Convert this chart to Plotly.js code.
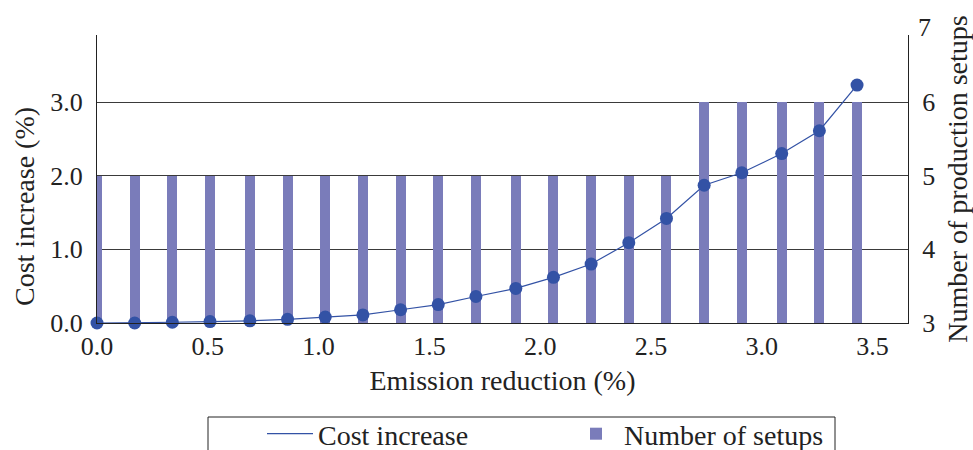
<!DOCTYPE html>
<html>
<head>
<meta charset="utf-8">
<script src="https://cdn.plot.ly/plotly-3.0.1.min.js"></script>
<style>html,body{margin:0;padding:0;background:#fff;}#chart{width:973px;height:450px;}</style>
</head>
<body>
<div id="chart"></div>
<script>
// Emission reduction (%) for each solution
const emissionReduction = [0, 0.17, 0.34, 0.51, 0.69, 0.86, 1.03, 1.20, 1.37, 1.54, 1.71, 1.89, 2.06, 2.23, 2.40, 2.57, 2.74, 2.91, 3.09, 3.26, 3.43];
// Cost increase (%)
const costIncrease = [0.00, 0.00, 0.01, 0.02, 0.03, 0.05, 0.08, 0.11, 0.18, 0.25, 0.36, 0.47, 0.62, 0.80, 1.09, 1.42, 1.87, 2.04, 2.30, 2.61, 3.23];
// Number of production setups
const setups = [5, 5, 5, 5, 5, 5, 5, 5, 5, 5, 5, 5, 5, 5, 5, 5, 6, 6, 6, 6, 6];
const setupsBase = 3;

const FONT = 'Liberation Serif, Times New Roman, serif';
const TXT = '#222';
const LINE_COLOR = '#3352a5';
const BAR_COLOR = '#7a7cba';

const traces = [
  {
    type: 'scatter', mode: 'lines', name: 'Cost increase',
    x: emissionReduction, y: costIncrease, xaxis: 'x', yaxis: 'y2',
    line: {color: LINE_COLOR, width: 1.2},
    cliponaxis: false
  },
  {
    type: 'scatter', mode: 'markers', name: 'Cost increase', showlegend: false,
    x: emissionReduction, y: costIncrease, xaxis: 'x', yaxis: 'y2',
    marker: {color: LINE_COLOR, size: 13},
    cliponaxis: false
  },
  {
    type: 'bar', name: 'Number of setups',
    x: emissionReduction, y: setups.map(v => v - setupsBase), base: setupsBase,
    customdata: setups, hovertemplate: '%{customdata}<extra></extra>',
    xaxis: 'x', yaxis: 'y',
    width: 0.045,
    marker: {color: BAR_COLOR, line: {width: 0}},
    cliponaxis: false
  }
];

const W = 973, H = 450, L = 97, R = 65, T = 35, B = 127;
const pw = W - L - R, ph = H - T - B;
const px = v => (v - L) / pw;
const py = v => (H - B - v) / ph;

const tickFont = {family: FONT, size: 26, color: TXT};
const titleFont = {family: FONT, size: 28, color: TXT};

const layout = {
  width: W, height: H,
  margin: {l: L, r: R, t: T, b: B, autoexpand: false},
  paper_bgcolor: '#fff', plot_bgcolor: '#fff',
  font: {family: FONT, size: 26, color: TXT},
  showlegend: true,
  bargap: 0,
  xaxis: {
    range: [0, 3.66], dtick: 0.5, tick0: 0, tickformat: '.1f', tickfont: tickFont,
    showgrid: false, zeroline: false, showline: true, linecolor: '#222', linewidth: 1,
    ticks: '', ticklabelstandoff: 0, automargin: false,
    title: {text: 'Emission reduction (%)', font: titleFont, standoff: 10}
  },
  yaxis: {
    side: 'right', range: [3, 6.91], dtick: 1, tick0: 3, tickfont: tickFont,
    showgrid: true, gridcolor: '#3a3a3a', gridwidth: 1,
    zeroline: false, showline: true, linecolor: '#222', linewidth: 1,
    ticks: '', ticklabelstandoff: 8, automargin: false,
    title: {text: 'Number of production setups', font: titleFont, standoff: 16}
  },
  yaxis2: {
    side: 'left', overlaying: 'y', range: [0, 3.91], dtick: 1, tick0: 0, tickformat: '.1f', tickfont: tickFont,
    showgrid: false, zeroline: false, showline: true, linecolor: '#222', linewidth: 1,
    ticks: '', ticklabelstandoff: 8, automargin: false
  },
  legend: {
    orientation: 'h', x: px(262), xanchor: 'left', y: py(409), yanchor: 'top',
    itemwidth: 46,
    entrywidth: 245, entrywidthmode: 'pixels',
    bgcolor: 'rgba(0,0,0,0)', borderwidth: 0,
    font: titleFont
  },
  shapes: [
    {type: 'rect', xref: 'paper', yref: 'paper', x0: px(208), x1: px(835), y0: py(417), y1: py(470),
     line: {color: '#222', width: 1}, fillcolor: 'rgba(0,0,0,0)'}
  ],
  annotations: [
    {text: 'Cost increase (%)', xref: 'paper', yref: 'paper', x: px(24), y: py(207),
     xanchor: 'center', yanchor: 'middle', textangle: -90, showarrow: false,
     font: titleFont},
    {text: '7', xref: 'paper', yref: 'paper', x: 1, y: py(28), xanchor: 'left', yanchor: 'middle',
     xshift: 8, showarrow: false, font: tickFont}
  ]
};

Plotly.newPlot('chart', traces, layout, {displayModeBar: false});
</script>
</body>
</html>
